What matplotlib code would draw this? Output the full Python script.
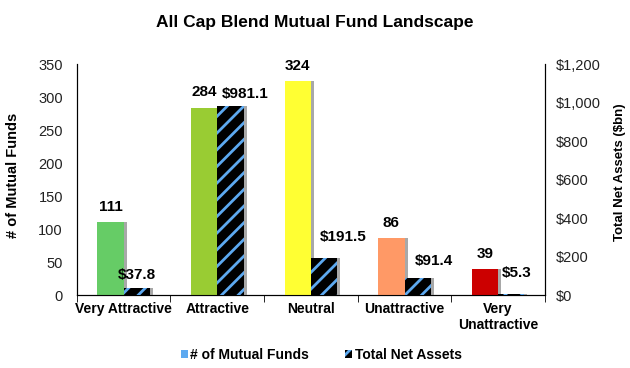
import matplotlib
matplotlib.use("Agg")
import matplotlib.pyplot as plt
import matplotlib.transforms as mtransforms
from matplotlib.patches import Patch
import numpy as np

plt.rcParams['font.family'] = ['Liberation Sans', 'DejaVu Sans']
plt.rcParams['hatch.linewidth'] = 2.0

categories = ["Very Attractive", "Attractive", "Neutral", "Unattractive", "Very\nUnattractive"]
num_funds = [111, 284, 324, 86, 39]
net_assets = [37.8, 981.1, 191.5, 91.4, 5.3]
fund_labels = ["111", "284", "324", "86", "39"]
asset_labels = ["$37.8", "$981.1", "$191.5", "$91.4", "$5.3"]
bar_colors = ["#66CC66", "#99CC33", "#FFFF33", "#FF9966", "#CC0000"]
left_ticks = [0, 50, 100, 150, 200, 250, 300, 350]
right_ticks = [0, 200, 400, 600, 800, 1000, 1200]
right_tick_labels = ["$0", "$200", "$400", "$600", "$800", "$1,000", "$1,200"]

HATCH_BLUE = '#5DA9F0'

fig = plt.figure(figsize=(6.3, 3.68), dpi=100)
ax = fig.add_axes([0.122, 0.198, 0.743, 0.628])
ax2 = ax.twinx()

x = np.arange(len(categories))
w = 0.28

# shadows (gray copies offset a few pixels to the right)
sh1 = mtransforms.offset_copy(ax.transData, fig=fig, x=3, y=0, units='dots')
sh2 = mtransforms.offset_copy(ax2.transData, fig=fig, x=3, y=0, units='dots')
ax.bar(x - w / 2, num_funds, w, color='#A8A8A8', linewidth=0, zorder=2, transform=sh1)
ax2.bar(x + w / 2, net_assets, w, color='#A8A8A8', linewidth=0, zorder=2, transform=sh2)

ax.bar(x - w / 2, num_funds, w, color=bar_colors, linewidth=0, zorder=3)
ax2.bar(x + w / 2, net_assets, w, facecolor='black', edgecolor=HATCH_BLUE,
        hatch='//', linewidth=0, zorder=3)

ax.set_xlim(-0.5, 4.5)
ax.set_ylim(0, 350)
ax2.set_ylim(0, 1200)
ax.set_yticks(left_ticks)
ax2.set_yticks(right_ticks)
ax2.set_yticklabels(right_tick_labels)
ax.set_xticks(x)
ax.set_xticklabels(categories, fontweight='bold', fontsize=10)
ax.set_xticks([-0.5, 0.5, 1.5, 2.5, 3.5, 4.5], minor=True)
ax.tick_params(axis='x', which='major', length=0, pad=5)
ax.tick_params(axis='x', which='minor', length=5, direction='out')
ax.tick_params(axis='y', labelsize=10.5, length=0, pad=10, labelcolor='#222222')
ax2.tick_params(axis='y', labelsize=10.5, length=0, pad=8, labelcolor='#222222')

for a in (ax, ax2):
    a.spines['top'].set_visible(False)

ax.set_ylabel("# of Mutual Funds", fontweight='bold', fontsize=10.5)
ax.yaxis.set_label_coords(-0.122, 0.517)
ax2.set_ylabel("Total Net Assets ($bn)", fontweight='bold', fontsize=9.5)
ax2.yaxis.set_label_coords(1.148, 0.534)

fund_offsets = [(0, 6), (0, 6), (0, 6), (0, 6), (0, 6)]
for i, (v, lab) in enumerate(zip(num_funds, fund_labels)):
    dx, dy = fund_offsets[i]
    ax.annotate(lab, (x[i] - w / 2, v), xytext=(dx, dy), textcoords='offset points',
                ha='center', va='bottom', fontweight='bold', fontsize=11)

asset_offsets = [(0, 4), (11, 4), (14, 10), (12, 7), (4, 10)]
for i, (v, lab) in enumerate(zip(net_assets, asset_labels)):
    dx, dy = asset_offsets[i]
    ax2.annotate(lab, (x[i] + w / 2, v), xytext=(dx, dy), textcoords='offset points',
                 ha='center', va='bottom', fontweight='bold', fontsize=11)

fig.suptitle("All Cap Blend Mutual Fund Landscape", fontweight='bold', fontsize=12.5, y=0.958)

handles = [Patch(facecolor=HATCH_BLUE, linewidth=0),
           Patch(facecolor='black', edgecolor=HATCH_BLUE, hatch='//', linewidth=0)]
fig.legend(handles, ["# of Mutual Funds", "Total Net Assets"], loc='lower center',
           ncol=2, frameon=False, bbox_to_anchor=(0.51, -0.018),
           prop={'weight': 'bold', 'size': 10}, handlelength=0.5, handleheight=0.5,
           columnspacing=2.6, handletextpad=0.2)

fig.savefig("out.png", dpi=100)
